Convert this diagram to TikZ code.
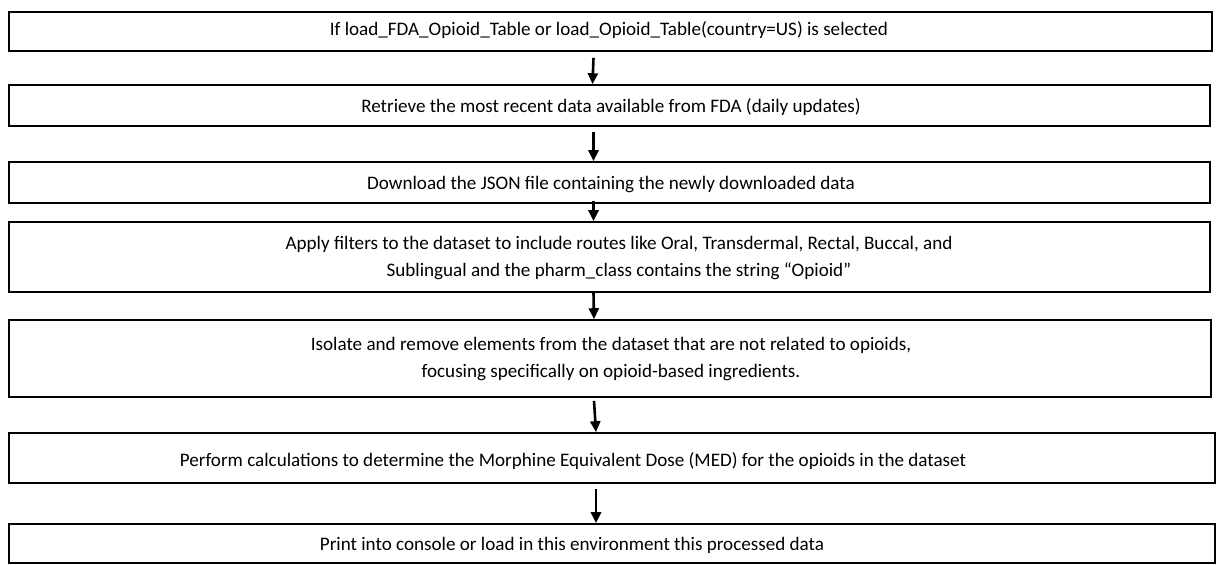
\documentclass[tikz,border=0pt]{standalone}
\usepackage{fontspec}
\setmainfont{Carlito}
\usetikzlibrary{arrows.meta}
\begin{document}
\begin{tikzpicture}[x=1pt,y=-1pt,
  box/.style={draw=black, line width=1.6pt, fill=white, inner sep=0pt},
  txt/.style={font=\fontsize{19.1}{27}\selectfont, align=center, inner sep=0pt},
  arr/.style={line width=2.6pt, -{Triangle[length=11pt,width=10pt]}}]
\useasboundingbox[fill=white] (0,0) rectangle (1216,565);

% process boxes
\node[box, minimum width=1203pt, minimum height=39pt] (b1) at (610.5,31.5) {};
\node[box, minimum width=1201pt, minimum height=41pt] (b2) at (609.5,105.5) {};
\node[box, minimum width=1201pt, minimum height=41pt] (b3) at (609.5,182.5) {};
\node[box, minimum width=1201pt, minimum height=70pt] (b4) at (609.5,257) {};
\node[box, minimum width=1202pt, minimum height=77pt] (b5) at (610,358.5) {};
\node[box, minimum width=1206pt, minimum height=50pt] (b6) at (612,458) {};
\node[box, minimum width=1206pt, minimum height=39pt] (b7) at (612,543.5) {};

% box texts
\node[txt, anchor=base] (t1) at (609,35) {If load\_FDA\_Opioid\_Table or load\_Opioid\_Table(country=US) is selected};
\node[txt, anchor=base] (t2) at (611,112) {Retrieve the most recent data available from FDA (daily updates)};
\node[txt, anchor=base] (t3) at (611,189.5) {Download the JSON file containing the newly downloaded data};
\node[txt] (t4) at (619,258.5) {Apply filters to the dataset to include routes like Oral, Transdermal, Rectal, Buccal, and\\Sublingual and the pharm\_class contains the string “Opioid”};
\node[txt] (t5) at (611,359) {Isolate and remove elements from the dataset that are not related to opioids,\\focusing specifically on opioid-based ingredients.};
\node[txt, anchor=base] (t6) at (573,466) {Perform calculations to determine the Morphine Equivalent Dose (MED) for the opioids in the dataset};
\node[txt, anchor=base] (t7) at (572,550) {Print into console or load in this environment this processed data};

% connectors
\draw[arr] ([xshift=-17pt,yshift=-6pt]b1.south) -- ([xshift=-17pt]b2.north);
\draw[arr] ([xshift=-16pt,yshift=-5pt]b2.south) -- ([xshift=-16pt]b3.north);
\draw[arr] ([xshift=-16pt,yshift=3pt]b3.south) -- ([xshift=-16pt]b4.north);
\draw[arr] ([xshift=-16pt]b4.south) -- ([xshift=-16pt]b5.north);
\draw[arr] ([xshift=-16pt,yshift=-3pt]b5.south) -- ([xshift=-16pt]b6.north);
\draw[arr] ([xshift=-16pt,yshift=-5pt]b6.south) -- ([xshift=-16pt]b7.north);
\end{tikzpicture}
\end{document}
